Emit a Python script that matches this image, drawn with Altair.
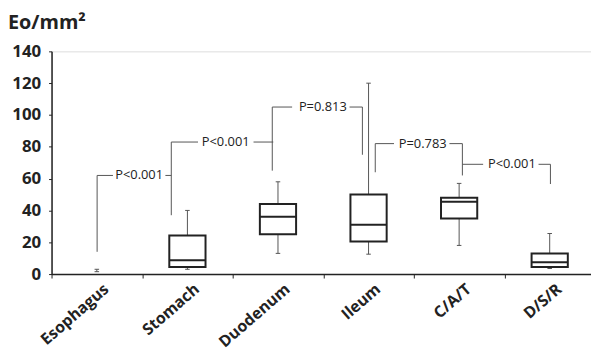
import altair as alt
import pandas as pd

categories = ["Esophagus", "Stomach", "Duodenum", "Ileum", "C/A/T", "D/S/R"]
whisker_low = [1.5, 3.0, 13.0, 12.5, 18.0, 3.5]
q1 = [2.0, 4.4, 25.0, 20.5, 35.0, 4.4]
median = [2.0, 8.7, 36.0, 31.0, 45.5, 7.5]
q3 = [2.0, 24.3, 44.0, 50.0, 48.0, 13.0]
whisker_high = [3.0, 40.0, 58.0, 120.0, 57.0, 25.5]

p_labels = ["P<0.001", "P<0.001", "P=0.813", "P=0.783", "P<0.001"]
p_label_x = [0.967, 1.923, 2.995, 4.098, 5.082]
p_label_y = [62, 83, 105, 82, 69]

leg_x = [0.503, 1.322, 2.437, 3.432, 3.574, 4.536, 5.508]
leg_low = [14, 37, 65, 75, 64, 62, 56.6]
leg_high = [62, 83, 105, 105, 82, 82, 69]

seg_y = [62, 62, 83, 83, 105, 105, 82, 82, 69, 69]
seg_x1 = [0.503, 1.257, 1.322, 2.230, 2.437, 3.290, 3.574, 4.393, 4.536, 5.377]
seg_x2 = [0.678, 1.322, 1.617, 2.448, 2.656, 3.432, 3.781, 4.536, 4.765, 5.508]

y_ticks = [0, 20, 40, 60, 80, 100, 120, 140]
x_ticks = [0, 1, 2, 3, 4, 5]

FONT = "Open Sans"
HALF = 0.2
CAP = 0.025

box = pd.DataFrame({
    "cat": categories, "lo": whisker_low, "q1": q1, "med": median,
    "q3": q3, "hi": whisker_high,
})
box["c"] = [i + 0.5 for i in range(len(categories))]
box["l"] = box["c"] - HALF
box["r"] = box["c"] + HALF
box["cl"] = box["c"] - CAP
box["cr"] = box["c"] + CAP
box_real = box[box["q3"] > box["q1"]]

legs = pd.DataFrame({"x": leg_x, "lo": leg_low, "hi": leg_high})
segs = pd.DataFrame({"y": seg_y, "x1": seg_x1, "x2": seg_x2})
plabs = pd.DataFrame({"t": p_labels, "x": p_label_x, "y": p_label_y})

xscale = alt.Scale(domain=[0, 5.956], nice=False, zero=False)
yscale = alt.Scale(domain=[0, 140], nice=False)
xaxis = alt.Axis(values=x_ticks, labels=False, ticks=True, tickSize=4, tickColor="#222",
                 domainColor="#222", domainWidth=1.5, grid=False, title=None)
yaxis = alt.Axis(values=y_ticks, labelFont=FONT, labelFontWeight="bold", labelFontSize=17,
                 labelColor="#222", labelPadding=8, tickSize=3, tickColor="#222",
                 domainColor="#222", domainWidth=1.5, grid=False, title=None)

def X(f):
    return alt.X(f, type="quantitative", scale=xscale, axis=xaxis)

def Y(f):
    return alt.Y(f, type="quantitative", scale=yscale, axis=yaxis)

whisk = alt.Chart(box).mark_rule(color="#555", strokeWidth=1).encode(
    x=X("c"), y=Y("lo"), y2="hi")
cap_hi = alt.Chart(box).mark_rule(color="#555", strokeWidth=1).encode(
    x=X("cl"), x2="cr", y=Y("hi"))
cap_lo = alt.Chart(box).mark_rule(color="#555", strokeWidth=1).encode(
    x=X("cl"), x2="cr", y=Y("lo"))
rects = alt.Chart(box_real).mark_rect(fill="white", stroke="#222", strokeWidth=2).encode(
    x=X("l"), x2="r", y=Y("q1"), y2="q3")
meds = alt.Chart(box_real).mark_rule(color="#222", strokeWidth=2).encode(
    x=X("l"), x2="r", y=Y("med"))

leg_layer = alt.Chart(legs).mark_rule(color="#555", strokeWidth=1).encode(
    x=X("x"), y=Y("lo"), y2="hi")
seg_layer = alt.Chart(segs).mark_rule(color="#555", strokeWidth=1).encode(
    x=X("x1"), x2="x2", y=Y("y"))
p_layer = alt.Chart(plabs).mark_text(font=FONT, fontSize=13, color="#222",
                                     baseline="middle", align="center").encode(
    x=X("x"), y=Y("y"), text="t")

cat_layer = alt.Chart(box).mark_text(font=FONT, fontSize=16, fontWeight="bold", color="#222",
                                     align="right", baseline="top", dx=6, angle=319).encode(
    x=X("c"), y=alt.value(236), text="cat")

chart = alt.layer(
    whisk, cap_hi, cap_lo, rects, meds, leg_layer, seg_layer, p_layer, cat_layer
).properties(
    width=545, height=225,
    autosize=alt.AutoSizeParams(type="none"),
    padding={"left": 44, "top": 42, "right": 0, "bottom": 84},
    title=alt.TitleParams("Eo/mm²", anchor="start", frame="group", dx=-44, offset=10,
                          font=FONT, fontSize=20, fontWeight="bold", color="#222"),
).configure_view(stroke=None).configure(background="white")

chart.save("out.html", embed_options={"renderer": "svg", "actions": False})
